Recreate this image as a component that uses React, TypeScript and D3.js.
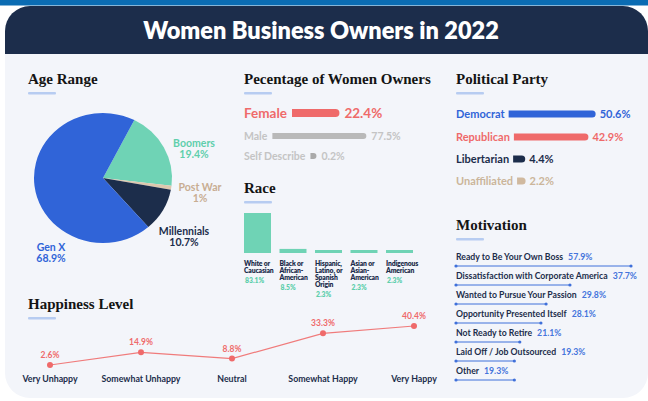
import React, { useEffect, useRef } from "react";
import * as d3 from "d3";

const W = 648;
const H = 401;

const NAVY = "#1c2d4b";
const BLUE = "#3064d8";
const MINT = "#6fd3b5";
const RED = "#ef6a6a";
const TAN = "#dcc7ae";
const GRAY_TXT = "#c4c4c4";
const GRAY_BAR = "#b9b9b9";
const BODY = "#f3f5fa";
const UNDERLINE = "#b7ccf1";
const SANS = "Lato, 'Noto Sans', sans-serif";
const SERIF = "'Liberation Serif', 'DejaVu Serif', serif";

// ---------- data ----------
const ageLabels = ["Boomers", "Post War", "Millennials", "Gen X"];
const ageValues = [19.4, 1, 10.7, 68.9];

const ownerLabels = ["Female", "Male", "Self Describe"];
const ownerValues = [22.4, 77.5, 0.2];

const raceLabels = [
  ["White or", "Caucasian"],
  ["Black or", "African-", "American"],
  ["Hispanic,", "Latino, or", "Spanish", "Origin"],
  ["Asian or", "Asian-", "American"],
  ["Indigenous", "American"],
];
const raceValues = [83.1, 8.5, 2.3, 2.3, 2.3];

const partyLabels = ["Democrat", "Republican", "Libertarian", "Unaffiliated"];
const partyValues = [50.6, 42.9, 4.4, 2.2];

const motivationLabels = [
  "Ready to Be Your Own Boss",
  "Dissatisfaction with Corporate America",
  "Wanted to Pursue Your Passion",
  "Opportunity Presented Itself",
  "Not Ready to Retire",
  "Laid Off / Job Outsourced",
  "Other",
];
const motivationValues = [57.9, 37.7, 29.8, 28.1, 21.1, 19.3, 19.3];

const happinessLabels = ["Very Unhappy", "Somewhat Unhappy", "Neutral", "Somewhat Happy", "Very Happy"];
const happinessValues = [2.6, 14.9, 8.8, 33.3, 40.4];

// ---------- layout / style ----------
const ageColors = [MINT, TAN, NAVY, BLUE];
const ageTextColors = ["#5fcfac", "#c8ad92", NAVY, BLUE];
const ageLabelPos: [number, number][] = [
  [194, 147],
  [200, 191],
  [184, 235],
  [51, 251],
];

const fmt = (v: number) => `${v}%`;

function roundedRightBar(x: number, y: number, w: number, h: number) {
  const r = Math.min(h / 2, w);
  return `M${x},${y} L${x + w - r},${y} A${r},${r} 0 0 1 ${x + w - r},${y + h} L${x},${y + h} Z`;
}

export default function App() {
  const ref = useRef<SVGSVGElement>(null);

  useEffect(() => {
    const svg = d3.select(ref.current as SVGSVGElement);
    svg.selectAll("*").remove();

    // ---- frame ----
    svg.append("rect").attr("width", W).attr("height", H).attr("fill", "#ffffff");
    svg.append("rect").attr("width", W).attr("height", 5.5).attr("fill", "#0b6cb3");

    const r = 25, x0 = 5, y0 = 6, x1 = 648, y1 = 398;
    const cardPath = `M${x0},${y0 + r} A${r},${r} 0 0 1 ${x0 + r},${y0} L${x1 - r},${y0} A${r},${r} 0 0 1 ${x1},${y0 + r} L${x1},${y1 - r} A${r},${r} 0 0 1 ${x1 - r},${y1} L${x0 + r},${y1} A${r},${r} 0 0 1 ${x0},${y1 - r} Z`;
    svg.append("defs").append("clipPath").attr("id", "cardclip").append("path").attr("d", cardPath);
    svg.append("path").attr("d", cardPath).attr("fill", BODY);
    svg.append("rect").attr("x", 0).attr("y", 0).attr("width", W).attr("height", 54)
      .attr("fill", NAVY).attr("clip-path", "url(#cardclip)");

    svg.append("text").attr("x", 321).attr("y", 38.5).attr("text-anchor", "middle")
      .attr("font-family", SANS).attr("font-weight", 800).attr("font-size", 23.5).attr("fill", "#ffffff")
      .text("Women Business Owners in 2022");

    const sectionTitle = (x: number, y: number, t: string) => {
      svg.append("text").attr("x", x).attr("y", y).attr("font-family", SERIF).attr("font-weight", 700)
        .attr("font-size", 15).attr("fill", "#141414").text(t);
      svg.append("rect").attr("x", x).attr("y", y + 8).attr("width", 28).attr("height", 2.5)
        .attr("rx", 1).attr("fill", UNDERLINE);
    };

    sectionTitle(28, 84, "Age Range");
    sectionTitle(244, 84, "Pecentage of Women Owners");
    sectionTitle(456, 84, "Political Party");
    sectionTitle(244, 193, "Race");
    sectionTitle(456, 230, "Motivation");
    sectionTitle(28, 309, "Happiness Level");

    // ---- Age pie ----
    const pieG = svg.append("g").attr("transform", `translate(103,178) scale(${69 / 65},1)`);
    const start = (27 * Math.PI) / 180;
    const pie = d3.pie<number>().sort(null).value((d) => d).startAngle(start).endAngle(start + 2 * Math.PI);
    const arc = d3.arc<d3.PieArcDatum<number>>().innerRadius(0).outerRadius(65);
    pieG.selectAll("path").data(pie(ageValues)).join("path")
      .attr("d", arc).attr("fill", (_d, i) => ageColors[i]);

    ageLabels.forEach((lab, i) => {
      const [lx, ly] = ageLabelPos[i];
      const t = svg.append("text").attr("x", lx).attr("y", ly).attr("text-anchor", "middle")
        .attr("font-family", SANS).attr("font-weight", 700).attr("font-size", 10.5).attr("fill", ageTextColors[i]);
      t.append("tspan").attr("x", lx).text(lab);
      t.append("tspan").attr("x", lx).attr("dy", 11).text(fmt(ageValues[i]));
    });

    // ---- Women owners ----
    const ownScale = d3.scalePow().exponent(0.55).domain([0, 77.5]).range([0, 94]);
    const ownY = [113, 136, 156];
    const ownFs = [13.5, 10.5, 10.5];
    const ownBarH = [8, 6, 6];
    const ownTxt = [RED, GRAY_TXT, GRAY_TXT];
    const ownBar = [RED, GRAY_BAR, "#aaaaaa"];
    ownerLabels.forEach((lab, i) => {
      const t = svg.append("text").attr("x", 244).attr("y", ownY[i] + ownFs[i] * 0.36)
        .attr("font-family", SANS).attr("font-weight", 700).attr("font-size", ownFs[i]).attr("fill", ownTxt[i]).text(lab);
      const tw = (t.node() as SVGTextElement).getComputedTextLength();
      const bx = 244 + tw + 5;
      const bw = Math.max(ownScale(ownerValues[i]), 6);
      svg.append("path").attr("d", roundedRightBar(bx, ownY[i] - ownBarH[i] / 2, bw, ownBarH[i])).attr("fill", ownBar[i]);
      svg.append("text").attr("x", bx + bw + 5).attr("y", ownY[i] + ownFs[i] * 0.36)
        .attr("font-family", SANS).attr("font-weight", 700).attr("font-size", ownFs[i]).attr("fill", ownTxt[i])
        .text(fmt(ownerValues[i]));
    });

    // ---- Political party ----
    const partyScale = d3.scaleLinear().domain([0, 50.6]).range([5, 87]);
    const partyY = [114, 137, 159, 181];
    const partyTxt = [BLUE, RED, NAVY, "#cbb59b"];
    const partyBar = [BLUE, RED, NAVY, "#d0b99f"];
    partyLabels.forEach((lab, i) => {
      const t = svg.append("text").attr("x", 456).attr("y", partyY[i] + 4)
        .attr("font-family", SANS).attr("font-weight", 700).attr("font-size", 11).attr("fill", partyTxt[i]).text(lab);
      const tw = (t.node() as SVGTextElement).getComputedTextLength();
      const bx = 456 + tw + 4;
      const bw = partyScale(partyValues[i]);
      svg.append("path").attr("d", roundedRightBar(bx, partyY[i] - 3.5, bw, 7)).attr("fill", partyBar[i]);
      svg.append("text").attr("x", bx + bw + 4).attr("y", partyY[i] + 4)
        .attr("font-family", SANS).attr("font-weight", 700).attr("font-size", 11).attr("fill", partyTxt[i])
        .text(fmt(partyValues[i]));
    });

    // ---- Race ----
    const raceX = d3.scaleBand<number>().domain(raceValues.map((_d, i) => i)).range([244, 413]).paddingInner(0.24).paddingOuter(0);
    const raceH = d3.scaleLinear().domain([0, 83.1]).range([0, 40]);
    const base = 253;
    raceValues.forEach((v, i) => {
      const h = Math.max(raceH(v), 3);
      svg.append("rect").attr("x", raceX(i)!).attr("y", base - h).attr("width", raceX.bandwidth()).attr("height", h).attr("fill", MINT);
      const lines = raceLabels[i];
      const t = svg.append("text").attr("font-family", SANS).attr("font-weight", 800).attr("font-size", 6.8)
        .attr("letter-spacing", -0.15).attr("fill", NAVY);
      lines.forEach((ln, j) => {
        t.append("tspan").attr("x", raceX(i)!).attr("y", 266 + j * 7).text(ln);
      });
      svg.append("text").attr("x", raceX(i)! + 1).attr("y", 266 + (lines.length - 1) * 7 + 10)
        .attr("font-family", SANS).attr("font-weight", 800).attr("font-size", 6.8).attr("fill", "#5fcfac").text(fmt(v));
    });

    // ---- Motivation ----
    const motX = d3.scaleLinear().domain([0, 57.9]).range([456, 631]);
    motivationLabels.forEach((lab, i) => {
      const cy = 257 + i * 19;
      const t = svg.append("text").attr("x", 456).attr("y", cy + 3.2)
        .attr("font-family", SANS).attr("font-weight", 700).attr("font-size", 8.7).attr("fill", NAVY).text(lab);
      const tw = (t.node() as SVGTextElement).getComputedTextLength();
      svg.append("text").attr("x", 456 + tw + 5).attr("y", cy + 3.2)
        .attr("font-family", SANS).attr("font-weight", 700).attr("font-size", 8.7).attr("fill", "#4474dc")
        .text(fmt(motivationValues[i]));
      const ly = cy + 9;
      svg.append("line").attr("x1", motX(0)).attr("x2", motX(motivationValues[i])).attr("y1", ly).attr("y2", ly)
        .attr("stroke", "#3f70da").attr("stroke-width", 1);
      [motX(0), motX(motivationValues[i])].forEach((px) => {
        svg.append("circle").attr("cx", px).attr("cy", ly).attr("r", 1.6).attr("fill", "#3f70da");
      });
    });

    // ---- Happiness ----
    const hx = d3.scalePoint<string>().domain(happinessLabels).range([50, 414]);
    const hy = d3.scaleLinear().domain([0, 40.4]).range([367.7, 326]);
    const line = d3.line<number>().x((_d, i) => hx(happinessLabels[i])!).y((d) => hy(d));
    svg.append("path").attr("d", line(happinessValues)!).attr("fill", "none").attr("stroke", "#f07b7b").attr("stroke-width", 1.2);
    happinessValues.forEach((v, i) => {
      const px = hx(happinessLabels[i])!;
      svg.append("circle").attr("cx", px).attr("cy", hy(v)).attr("r", 3).attr("fill", RED);
      svg.append("text").attr("x", px).attr("y", hy(v) - 7).attr("text-anchor", "middle")
        .attr("font-family", SANS).attr("font-weight", 700).attr("font-size", 8.5).attr("fill", RED).text(fmt(v));
      svg.append("text").attr("x", px).attr("y", 381.5).attr("text-anchor", "middle")
        .attr("font-family", SANS).attr("font-weight", 700).attr("font-size", 8.8).attr("fill", NAVY).text(happinessLabels[i]);
    });
  }, []);

  return (
    <div style={{ position: "absolute", left: 0, top: 0 }}>
      <svg ref={ref} width={W} height={H} style={{ display: "block" }} />
    </div>
  );
}
